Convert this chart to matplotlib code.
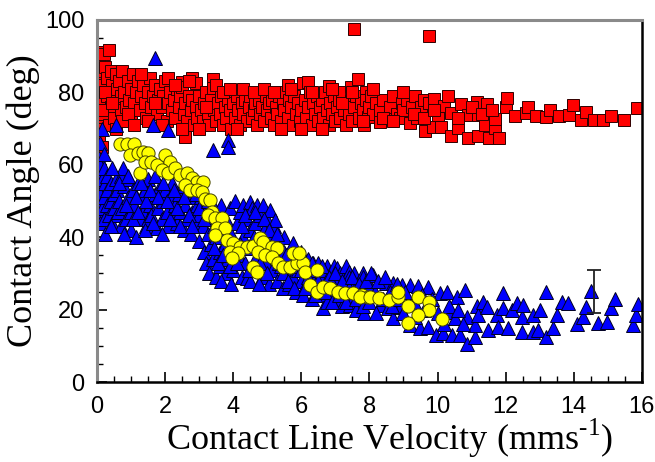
import numpy as np
import matplotlib
matplotlib.use("Agg")
import matplotlib.pyplot as plt
from matplotlib.ticker import MultipleLocator

# Red squares: (velocity, angle)
red_pts = [
    (0.05, 88), (0.05, 84), (0.05, 80), (0.05, 76), (0.05, 72), (0.05, 68), (0.1, 91), (0.1, 86),
    (0.1, 78), (0.1, 70), (0.15, 65), (0.2, 90.5), (0.2, 82), (0.2, 74), (0.25, 87), (0.3, 79),
    (0.3, 84), (0.35, 91.7), (0.35, 71), (0.4, 86), (0.4, 76), (0.45, 82), (0.5, 79), (0.5, 73),
    (0.55, 85), (0.6, 77), (0.6, 81), (0.65, 83), (0.7, 75), (0.7, 79), (0.75, 86), (0.8, 80),
    (0.85, 76), (0.9, 83), (0.95, 78), (1.0, 81), (1.0, 74), (1.05, 85), (1.1, 77), (1.15, 80),
    (1.2, 83), (1.25, 75), (1.3, 79), (1.35, 82), (1.4, 77), (1.45, 73), (1.5, 80), (1.55, 84),
    (1.6, 76), (1.65, 79), (1.7, 82), (1.75, 74), (1.8, 78), (1.85, 81), (1.9, 76), (1.95, 79),
    (2.0, 83), (2.05, 72), (2.1, 77), (2.15, 80), (2.2, 75), (2.25, 78), (2.3, 73), (2.35, 81),
    (2.4, 76), (2.45, 79), (2.5, 82.9), (2.5, 81.5), (2.55, 74), (2.6, 67.7), (2.6, 77), (2.65, 72),
    (2.7, 79), (2.75, 75), (2.8, 84), (2.8, 78), (2.85, 71), (2.9, 82.6), (2.9, 76), (2.95, 73),
    (3.0, 79), (3.05, 75), (3.1, 72), (3.15, 77), (3.2, 80), (3.25, 74), (3.3, 71), (3.35, 78),
    (3.4, 83.7), (3.4, 81.2), (3.45, 75), (3.5, 72), (3.55, 77), (3.6, 74), (3.65, 79), (3.7, 71),
    (3.75, 76), (3.8, 73), (3.85, 78), (3.9, 75), (3.95, 70), (4.0, 77), (4.05, 73), (4.1, 79),
    (4.15, 75), (4.2, 71), (4.25, 77), (4.3, 74), (4.35, 78), (4.4, 72), (4.45, 76), (4.5, 79),
    (4.55, 73), (4.6, 75), (4.65, 77), (4.7, 71), (4.75, 78), (4.8, 74), (4.85, 76), (4.9, 72),
    (4.95, 79), (5.0, 75), (5.05, 77), (5.1, 73), (5.15, 78), (5.2, 71), (5.25, 76), (5.3, 74),
    (5.35, 79), (5.4, 72), (5.45, 77), (5.5, 75), (5.55, 80), (5.6, 82), (5.6, 73), (5.65, 78),
    (5.7, 76), (5.75, 71), (5.8, 79), (5.85, 74), (5.9, 77), (5.95, 72), (6.05, 82.6), (6.0, 75),
    (6.1, 78), (6.2, 82.9), (6.15, 73), (6.2, 76), (6.25, 80), (6.3, 71), (6.35, 77), (6.4, 74),
    (6.45, 79), (6.5, 72), (6.55, 76), (6.6, 78), (6.65, 73), (6.7, 80), (6.8, 81.8), (6.75, 75),
    (6.8, 71), (6.85, 77), (6.9, 74), (6.95, 79), (7.0, 72), (7.05, 76), (7.1, 78), (7.15, 73),
    (7.2, 80), (7.25, 75), (7.3, 71), (7.35, 77), (7.46, 81.5), (7.4, 74), (7.45, 78), (7.5, 72),
    (7.55, 97.5), (7.55, 76), (7.6, 79), (7.66, 83.7), (7.7, 73), (7.75, 77), (7.8, 75), (7.9, 80.1),
    (7.85, 71), (7.9, 78), (7.96, 73.2), (8.0, 76), (8.05, 79), (8.1, 74), (8.2, 77), (8.3, 71.8),
    (8.3, 75), (8.4, 78), (8.5, 73), (8.6, 72.9), (8.6, 76), (8.7, 79), (8.8, 74), (8.9, 72.9),
    (8.95, 77), (9.0, 75), (9.1, 78), (9.2, 71.5), (9.25, 76), (9.35, 79), (9.4, 72.9), (9.5, 76),
    (9.63, 69.3), (9.6, 78), (9.75, 95.6), (9.75, 77), (9.86, 70.4), (9.9, 78.2), (10.0, 73.8),
    (10.1, 70.4), (10.2, 76.2), (10.4, 74.3), (10.4, 68), (10.6, 70.2), (10.7, 76.8), (10.9, 73.8),
    (10.9, 67.4), (11.15, 77.3), (11.2, 73.8), (11.2, 68), (11.4, 71), (11.45, 76.8), (11.5, 67.4),
    (11.7, 70.2), (11.7, 72.7), (11.8, 67.4), (12.0, 76), (12.04, 78.4), (12.27, 73.5), (12.6, 74.3),
    (12.65, 76), (12.9, 73.5), (13.18, 73.2), (13.3, 75.1), (13.57, 73.5), (13.86, 73.8),
    (13.98, 76.5), (14.2, 72.4), (14.36, 74.6), (14.6, 72.4), (14.86, 72.4), (15.1, 73.5),
    (15.47, 72.4), (15.85, 75.7),
    (0.15, 75), (0.25, 80), (0.45, 77), (0.55, 70), (0.75, 72), (0.9, 74), (1.1, 71), (1.3, 85),
    (1.5, 72), (1.7, 77), (1.9, 71), (2.1, 84), (2.3, 82), (2.5, 70), (2.7, 83), (3.0, 70),
    (3.2, 76), (3.5, 82), (3.7, 80), (3.9, 81), (4.1, 70), (4.3, 81), (4.6, 80), (4.9, 81),
    (5.2, 80), (5.4, 70), (5.7, 81), (6.0, 70), (6.3, 80), (6.6, 70), (6.9, 81), (7.2, 77),
    (7.5, 80), (7.8, 72), (8.1, 81), (8.4, 73), (8.7, 72), (9.0, 80), (9.3, 74), (9.6, 73),
    (9.9, 75), (10.3, 79), (10.6, 73), (11.0, 76), (11.3, 74), (11.6, 75),
]

# Blue triangles
blue_pts = [
    (0.05, 62), (0.05, 58), (0.05, 54), (0.05, 50), (0.05, 46), (0.1, 66), (0.1, 60), (0.1, 52),
    (0.1, 44), (0.15, 70), (0.15, 56), (0.15, 48), (0.2, 63), (0.2, 59), (0.2, 51), (0.2, 45),
    (0.25, 55), (0.3, 49), (0.3, 53), (0.3, 57), (0.35, 46), (0.4, 50), (0.4, 55), (0.45, 44),
    (0.5, 52), (0.5, 48), (0.55, 56), (0.55, 71), (0.6, 46), (0.6, 53), (0.62, 47), (0.65, 50),
    (0.7, 43), (0.7, 57), (0.75, 48), (0.76, 59), (0.8, 54), (0.85, 45), (0.9, 51), (0.95, 56),
    (1.0, 47), (1.0, 42), (1.05, 53), (1.1, 49), (1.15, 40), (1.2, 55), (1.25, 45), (1.3, 51),
    (1.35, 47), (1.4, 53), (1.45, 43), (1.5, 56), (1.5, 45), (1.55, 49), (1.6, 46), (1.65, 71),
    (1.7, 89.5), (1.7, 52), (1.76, 42.5), (1.8, 48), (1.85, 54), (1.9, 45), (1.95, 50), (2.0, 53),
    (2.05, 47), (2.1, 69.6), (2.1, 43), (2.15, 51), (2.2, 55), (2.25, 46), (2.3, 49), (2.35, 44),
    (2.4, 52), (2.45, 47), (2.5, 54), (2.55, 42), (2.6, 49), (2.65, 45), (2.7, 51), (2.75, 41),
    (2.8, 47), (2.85, 53), (2.9, 44), (2.95, 49), (3.0, 39), (3.0, 46), (3.05, 51), (3.1, 43),
    (3.15, 36), (3.2, 48), (3.2, 33), (3.25, 41), (3.3, 45), (3.3, 30), (3.35, 38), (3.4, 64),
    (3.4, 49), (3.4, 34), (3.45, 43), (3.5, 29), (3.5, 40), (3.55, 46), (3.6, 36), (3.6, 32),
    (3.65, 49), (3.7, 42), (3.75, 38), (3.8, 30), (3.8, 45), (3.85, 66.9), (3.85, 65), (3.85, 34),
    (3.9, 48), (3.95, 41), (4.0, 37), (4.0, 31), (4.05, 50), (4.1, 44), (4.15, 35), (4.2, 47),
    (4.25, 29), (4.3, 40), (4.3, 49), (4.35, 33), (4.4, 45), (4.4, 28.7), (4.45, 37), (4.5, 28),
    (4.5, 49.7), (4.5, 42), (4.55, 48), (4.6, 31), (4.65, 44), (4.7, 35), (4.7, 49), (4.75, 39),
    (4.8, 46), (4.85, 29), (4.87, 48.9), (4.9, 42), (4.95, 33), (5.0, 45), (5.0, 37), (5.05, 27),
    (5.08, 47.5), (5.1, 40), (5.15, 31), (5.2, 43), (5.23, 44.8), (5.25, 35), (5.3, 28), (5.35, 38),
    (5.4, 32), (5.45, 26), (5.5, 40), (5.5, 36), (5.55, 30), (5.6, 34), (5.65, 27), (5.7, 37),
    (5.75, 38.4), (5.75, 29), (5.8, 33), (5.85, 25), (5.9, 31), (5.95, 35), (6.0, 36), (6.0, 28),
    (6.05, 24), (6.1, 32), (6.15, 27), (6.2, 34), (6.25, 30), (6.3, 23), (6.35, 33), (6.35, 26),
    (6.4, 31), (6.45, 28), (6.5, 33), (6.55, 24), (6.6, 29), (6.64, 20.4), (6.65, 26), (6.7, 31),
    (6.75, 32), (6.75, 22), (6.8, 27), (6.85, 30), (6.9, 25), (6.95, 32), (7.0, 28), (7.05, 31.5),
    (7.05, 23), (7.1, 26), (7.15, 30), (7.2, 21), (7.25, 27), (7.3, 32), (7.35, 24), (7.4, 30.5),
    (7.4, 29), (7.43, 21.3), (7.45, 22), (7.5, 26), (7.55, 30), (7.6, 20), (7.65, 25), (7.7, 28),
    (7.75, 23), (7.8, 30), (7.8, 29), (7.85, 19), (7.9, 26), (7.95, 24), (8.0, 27), (8.1, 29.6),
    (8.3, 21.3), (8.5, 27.3), (8.55, 20.4), (8.7, 27.3), (8.7, 17.7), (8.9, 20.7), (8.95, 26.8),
    (9.19, 26.8), (9.19, 15.7), (9.43, 26.5), (9.48, 14.9), (9.72, 26.2), (9.72, 15.2),
    (9.95, 13), (10.07, 24.6), (10.16, 13.5), (10.28, 24.9), (10.3, 19.3), (10.42, 13),
    (10.5, 17.7), (10.57, 23.5), (10.66, 13), (10.8, 25.4), (10.86, 18), (10.86, 10.5),
    (11.1, 12.4), (11.1, 15.7), (11.15, 21), (11.18, 18.5), (11.33, 22.1), (11.45, 20.7),
    (11.48, 14.4), (11.74, 18.5), (11.77, 15.2), (11.92, 24.6), (11.92, 20.4), (12.07, 14.9),
    (12.18, 19.9), (12.33, 21.8), (12.48, 18), (12.48, 13.8), (12.5, 21.3), (12.8, 18.5),
    (12.8, 13.8), (12.95, 14.4), (13.0, 19.9), (13.18, 24.9), (13.18, 12.4), (13.4, 14.9),
    (13.5, 18.5), (13.65, 22), (13.83, 21.8), (14.1, 16), (14.27, 18), (14.36, 20.7), (14.5, 25.1),
    (14.7, 16.3), (14.97, 16.6), (15.1, 20.4), (15.2, 22.9), (15.74, 15.7), (15.83, 18.5),
    (15.9, 21.5),
    (0.25, 41), (0.4, 43), (0.45, 59), (0.65, 55), (0.8, 41), (0.85, 49), (0.9, 57), (1.05, 45),
    (1.15, 51), (1.2, 47), (1.3, 55), (1.4, 42), (1.45, 50), (1.55, 53), (1.65, 44), (1.7, 57),
    (1.8, 51), (1.9, 41), (1.95, 55), (2.05, 50), (2.15, 45), (2.25, 53), (2.35, 48), (2.45, 43),
    (2.55, 51), (2.6, 55), (2.7, 46), (2.8, 43), (2.9, 52), (3.0, 48), (3.1, 53), (3.15, 45),
    (3.25, 50), (3.35, 47), (3.45, 37), (3.55, 33), (3.65, 28), (3.7, 35), (3.9, 32), (3.95, 27),
    (4.1, 33), (4.2, 38), (4.25, 43), (4.35, 46), (4.45, 31), (4.6, 40), (4.65, 47), (4.75, 27),
    (4.8, 33), (4.9, 45), (5.0, 30), (5.05, 42), (5.15, 36), (5.3, 41), (5.35, 33), (5.45, 30),
    (5.55, 35), (5.6, 28), (5.7, 32), (5.8, 26), (5.9, 34), (6.0, 31), (6.1, 26), (6.2, 29),
    (6.3, 33), (6.4, 24), (6.5, 28), (6.6, 32), (6.7, 25), (6.8, 29), (6.9, 22), (7.0, 30),
    (7.1, 24), (7.2, 28), (7.3, 22), (7.4, 26), (7.5, 29), (7.6, 23), (7.7, 27), (7.8, 21),
    (7.9, 28), (8.0, 22), (8.05, 30), (8.15, 25), (8.2, 19), (8.25, 28), (8.4, 23), (8.45, 29),
    (8.6, 25), (8.65, 21), (8.8, 27), (8.85, 23), (9.0, 19), (9.05, 25), (9.3, 22), (9.35, 18),
    (9.55, 24), (9.6, 20), (9.85, 23), (10.0, 19), (10.2, 16), (10.35, 21), (10.6, 20), (10.75, 16),
]

# Yellow circles
yellow_pts = [
    (0.68, 65.7), (0.88, 65.7), (1.1, 65.7), (0.97, 62.7), (1.2, 63.2), (1.35, 63.5), (1.5, 63.2),
    (1.26, 57.7), (1.4, 60.8), (1.6, 60.8), (1.76, 59.9), (2.0, 62.7), (2.14, 60.8), (1.9, 58.6),
    (2.08, 57.7), (2.29, 59.1), (2.44, 57.2), (2.64, 57.7), (2.79, 56.4), (2.94, 55.2),
    (3.11, 55.2), (2.58, 54.4), (2.73, 53), (2.94, 53), (3.08, 52.5), (3.17, 50.5), (3.32, 50.3),
    (3.38, 47), (3.26, 46.1), (3.46, 45.3), (3.67, 45.3), (3.52, 42.5), (3.76, 42.5), (3.46, 40.6),
    (3.82, 39.2), (4.0, 38.4), (4.2, 37.3), (4.4, 37.3), (4.58, 37.6), (3.9, 35.9), (4.14, 35.6),
    (3.96, 34.3), (4.79, 39.8), (4.88, 38.7), (5.14, 37.3), (5.28, 37), (4.73, 35.9), (4.93, 35.1),
    (5.14, 34.5), (4.58, 31.8), (4.7, 30.4), (5.31, 32.9), (5.46, 31.8), (5.67, 31.8), (5.87, 32.9),
    (6.05, 32.9), (5.75, 35.6), (5.93, 35.6), (6.1, 30.4), (6.46, 30.9), (6.25, 26.8), (6.46, 24.9),
    (6.64, 26.2), (6.84, 26), (7.08, 24.9), (7.28, 24.6), (7.52, 24.6), (7.78, 24), (7.96, 23.5),
    (7.72, 23.5), (8.02, 23.5), (8.28, 23.2), (8.57, 22.7), (8.84, 23.5), (8.84, 24.9), (9.13, 21),
    (9.42, 23.5), (9.75, 22.1), (9.75, 19.9), (9.42, 18.5), (9.13, 16.3), (10.13, 17.4),
]

# Error bar
err_x, err_y, err_half = 14.6, 25, 6

xticks = [0, 2, 4, 6, 8, 10, 12, 14, 16]
yticks = [0, 20, 40, 60, 80, 100]

plt.rcParams['mathtext.fontset'] = 'custom'
plt.rcParams['mathtext.rm'] = 'Liberation Serif'

fig = plt.figure(figsize=(6.55, 4.62), dpi=100)
ax = fig.add_axes([0.148, 0.173, 0.832, 0.784])

rx, ry = zip(*red_pts)
bx, by = zip(*blue_pts)
yx, yy = zip(*yellow_pts)
ax.plot(rx, ry, 's', ms=8.6, mfc='#ff0000', mec='#300000', mew=0.7, ls='none')
ax.plot(bx, by, '^', ms=10, mfc='#0000ff', mec='#000020', mew=0.7, ls='none')
ax.plot(yx, yy, 'o', ms=9.5, mfc='#ffff00', mec='#444400', mew=0.7, ls='none')
ax.errorbar([err_x], [err_y], yerr=[err_half], fmt='none', ecolor='#222222', elinewidth=1.3,
            capsize=5, capthick=1.3)

ax.set_xlim(0, 16)
ax.set_ylim(0, 100)
ax.set_xticks(xticks)
ax.set_yticks(yticks)
ax.xaxis.set_minor_locator(MultipleLocator(0.5))
ax.yaxis.set_minor_locator(MultipleLocator(5))
ax.tick_params(which='both', direction='in', top=False, right=False)
ax.tick_params(which='major', length=7, width=1.2)
ax.tick_params(which='minor', length=4, width=1)
ax.tick_params(axis='x', pad=10)
ax.tick_params(axis='y', pad=9)
for lab in ax.get_xticklabels() + ax.get_yticklabels():
    lab.set_fontfamily('Liberation Sans')
    lab.set_fontsize(17)

for side in ['top', 'left']:
    ax.spines[side].set_color('#8a8a8a')
    ax.spines[side].set_linewidth(2.2)
for side in ['right', 'bottom']:
    ax.spines[side].set_color('black')
    ax.spines[side].set_linewidth(1.8)

ax.set_xlabel('Contact Line Velocity (mms$^{\\text{-1}}$)', family='Liberation Serif',
              fontsize=26)
ax.xaxis.set_label_coords(0.537, -0.097)
ax.set_ylabel('Contact Angle (deg)', family='Liberation Serif', fontsize=26)
ax.yaxis.set_label_coords(-0.104, 0.5)

fig.savefig('out.png', dpi=100)
